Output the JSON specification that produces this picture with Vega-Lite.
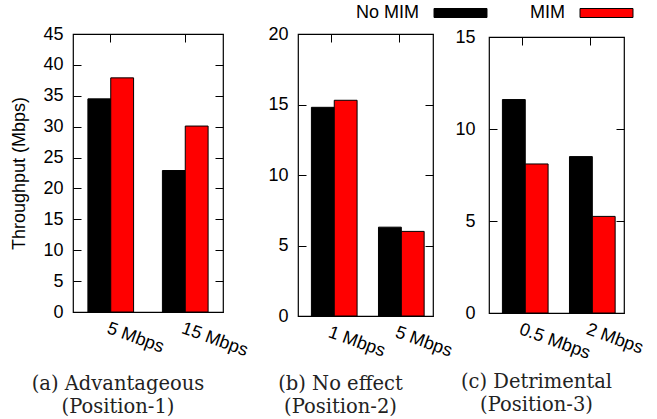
{
  "$schema": "https://vega.github.io/schema/vega-lite/v6.json",
  "padding": {"left": 10, "top": 4, "right": 5, "bottom": 2},
  "background": "white",
  "data": {"values": [
    {"panel": "a", "rate": "5 Mbps", "series": "No MIM", "value": 34.5},
    {"panel": "a", "rate": "5 Mbps", "series": "MIM", "value": 37.9},
    {"panel": "a", "rate": "15 Mbps", "series": "No MIM", "value": 22.9},
    {"panel": "a", "rate": "15 Mbps", "series": "MIM", "value": 30.1},
    {"panel": "b", "rate": "1 Mbps", "series": "No MIM", "value": 14.8},
    {"panel": "b", "rate": "1 Mbps", "series": "MIM", "value": 15.3},
    {"panel": "b", "rate": "5 Mbps", "series": "No MIM", "value": 6.3},
    {"panel": "b", "rate": "5 Mbps", "series": "MIM", "value": 6.0},
    {"panel": "c", "rate": "0.5 Mbps", "series": "No MIM", "value": 11.6},
    {"panel": "c", "rate": "0.5 Mbps", "series": "MIM", "value": 8.1},
    {"panel": "c", "rate": "2 Mbps", "series": "No MIM", "value": 8.5},
    {"panel": "c", "rate": "2 Mbps", "series": "MIM", "value": 5.25}
  ]},
  "spacing": 75,
  "bounds": "flush",
  "hconcat": [
    {
      "width": 150, "height": 278,
      "transform": [{"filter": "datum.panel == 'a'"}],
      "title": {"text": ["(a) Advantageous", "(Position-1)"], "dx": -30, "offset": 15},
      "layer": [
        {
          "mark": {"type": "bar", "stroke": "black", "strokeWidth": 1},
          "encoding": {
            "x": {"field": "rate", "type": "nominal", "sort": null, "scale": {"paddingInner": 0.387},
                  "axis": {"title": null, "labelAngle": 20, "labelAlign": "left", "labelBaseline": "top", "ticks": false, "domain": false, "labelPadding": 7}},
            "xOffset": {"field": "series", "type": "nominal", "sort": ["No MIM", "MIM"]},
            "y": {"field": "value", "type": "quantitative", "scale": {"domain": [0, 45], "nice": false},
                  "axis": {"title": "Throughput (Mbps)", "values": [0, 5, 10, 15, 20, 25, 30, 35, 40, 45], "tickSize": -8, "domain": false, "grid": false, "labelPadding": 18, "titlePadding": 14}},
            "color": {"field": "series", "type": "nominal", "sort": ["No MIM", "MIM"],
                      "scale": {"domain": ["No MIM", "MIM"], "range": ["#000000", "#ff0000"]}}
          }
        },
        {
          "mark": {"type": "bar", "opacity": 0},
          "encoding": {
            "x": {"field": "rate", "type": "nominal", "sort": null, "scale": {"paddingInner": 0.387},
                  "axis": {"title": null, "orient": "top", "labels": false, "tickSize": -8, "domain": false}},
            "xOffset": {"field": "series", "type": "nominal", "sort": ["No MIM", "MIM"]},
            "y": {"field": "value", "type": "quantitative", "scale": {"domain": [0, 45], "nice": false},
                  "axis": {"title": null, "orient": "right", "labels": false, "values": [0, 5, 10, 15, 20, 25, 30, 35, 40, 45], "tickSize": -8, "domain": false, "grid": false}}
          }
        }
      ],
      "resolve": {"axis": {"x": "independent", "y": "independent"}}
    },
    {
      "spacing": 56,
      "bounds": "flush",
      "center": true,
      "hconcat": [
        {
          "width": 135, "height": 282,
          "transform": [{"filter": "datum.panel == 'b'"}],
          "title": {"text": ["(b) No effect", "(Position-2)"], "dx": -25, "offset": 15},
          "layer": [
            {
              "mark": {"type": "bar", "stroke": "black", "strokeWidth": 1},
              "encoding": {
                "x": {"field": "rate", "type": "nominal", "sort": null, "scale": {"paddingInner": 0.387},
                      "axis": {"title": null, "labelAngle": 20, "labelAlign": "left", "labelBaseline": "top", "ticks": false, "domain": false, "labelPadding": 7}},
                "xOffset": {"field": "series", "type": "nominal", "sort": ["No MIM", "MIM"]},
                "y": {"field": "value", "type": "quantitative", "scale": {"domain": [0, 20], "nice": false},
                      "axis": {"title": null, "values": [0, 5, 10, 15, 20], "tickSize": -8, "domain": false, "grid": false, "labelPadding": 18}},
                "color": {"field": "series", "type": "nominal", "sort": ["No MIM", "MIM"],
                          "scale": {"domain": ["No MIM", "MIM"], "range": ["#000000", "#ff0000"]}}
              }
            },
            {
              "mark": {"type": "bar", "opacity": 0},
              "encoding": {
                "x": {"field": "rate", "type": "nominal", "sort": null, "scale": {"paddingInner": 0.387},
                      "axis": {"title": null, "orient": "top", "labels": false, "tickSize": -8, "domain": false}},
                "xOffset": {"field": "series", "type": "nominal", "sort": ["No MIM", "MIM"]},
                "y": {"field": "value", "type": "quantitative", "scale": {"domain": [0, 20], "nice": false},
                      "axis": {"title": null, "orient": "right", "labels": false, "values": [0, 5, 10, 15, 20], "tickSize": -8, "domain": false, "grid": false}}
              }
            }
          ],
          "resolve": {"axis": {"x": "independent", "y": "independent"}}
        },
        {
          "width": 135, "height": 276,
          "transform": [{"filter": "datum.panel == 'c'"}],
          "title": {"text": ["(c) Detrimental", "(Position-3)"], "dx": -20, "offset": 11},
          "layer": [
            {
              "mark": {"type": "bar", "stroke": "black", "strokeWidth": 1},
              "encoding": {
                "x": {"field": "rate", "type": "nominal", "sort": null, "scale": {"paddingInner": 0.387},
                      "axis": {"title": null, "labelAngle": 20, "labelAlign": "left", "labelBaseline": "top", "ticks": false, "domain": false, "labelPadding": 7}},
                "xOffset": {"field": "series", "type": "nominal", "sort": ["No MIM", "MIM"]},
                "y": {"field": "value", "type": "quantitative", "scale": {"domain": [0, 15], "nice": false},
                      "axis": {"title": null, "values": [0, 5, 10, 15], "tickSize": -8, "domain": false, "grid": false, "labelPadding": 22}},
                "color": {"field": "series", "type": "nominal", "sort": ["No MIM", "MIM"],
                          "scale": {"domain": ["No MIM", "MIM"], "range": ["#000000", "#ff0000"]}}
              }
            },
            {
              "mark": {"type": "bar", "opacity": 0},
              "encoding": {
                "x": {"field": "rate", "type": "nominal", "sort": null, "scale": {"paddingInner": 0.387},
                      "axis": {"title": null, "orient": "top", "labels": false, "tickSize": -8, "domain": false}},
                "xOffset": {"field": "series", "type": "nominal", "sort": ["No MIM", "MIM"]},
                "y": {"field": "value", "type": "quantitative", "scale": {"domain": [0, 15], "nice": false},
                      "axis": {"title": null, "orient": "right", "labels": false, "values": [0, 5, 10, 15], "tickSize": -8, "domain": false, "grid": false}}
              }
            }
          ],
          "resolve": {"axis": {"x": "independent", "y": "independent"}}
        }
      ]
    }
  ],
  "config": {
    "view": {"stroke": "black", "strokeWidth": 1.2},
    "font": "Liberation Sans",
    "axis": {
      "labelFont": "Liberation Sans", "labelFontSize": 18, "labelColor": "black",
      "titleFont": "Liberation Sans", "titleFontSize": 18, "titleFontWeight": "normal", "titleColor": "black",
      "tickColor": "black", "tickWidth": 1
    },
    "title": {
      "orient": "bottom", "anchor": "middle", "font": "DejaVu Serif", "fontSize": 19.5, "fontWeight": "normal",
      "color": "#222222", "lineHeight": 23, "offset": 15
    },
    "legend": {
      "orient": "none", "legendX": 345, "legendY": -30, "direction": "horizontal", "title": null,
      "symbolType": "M1.56,-1H13.33V1H1.56Z", "symbolSize": 81, "symbolStrokeColor": "black", "symbolStrokeWidth": 1,
      "symbolOpacity": 1,
      "labelAlign": "right", "labelOffset": -17, "labelFont": "Liberation Sans", "labelFontSize": 18, "labelColor": "black",
      "columnPadding": 41, "padding": 0
    }
  }
}
